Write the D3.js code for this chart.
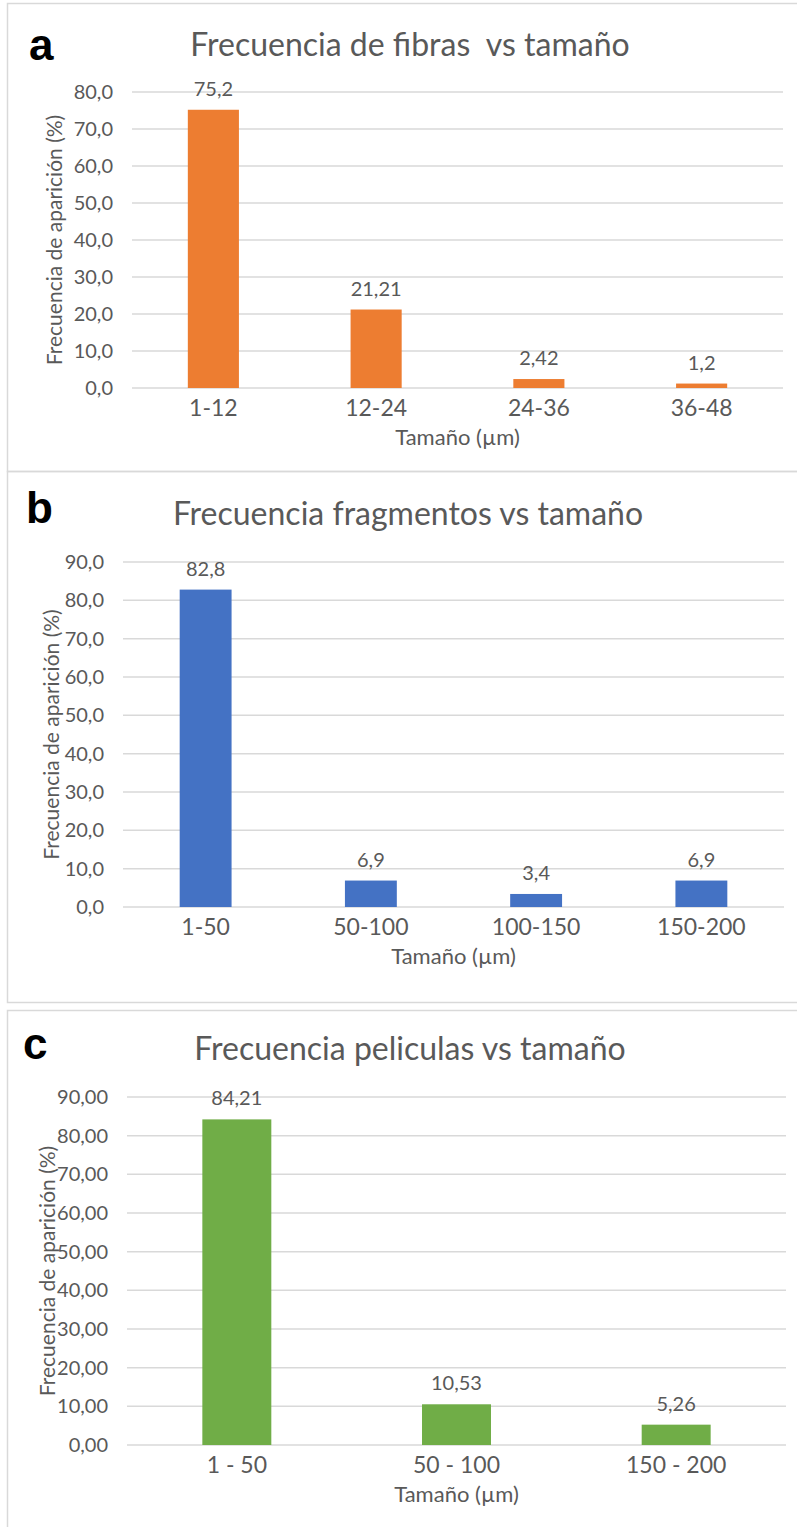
<!DOCTYPE html>
<html lang="es">
<head>
<meta charset="UTF-8">
<title>Frecuencia vs tamaño</title>
<script src="https://d3js.org/d3.v7.min.js"></script>
<style>
  body { margin: 0; background: #fff; }
  text { font-family: Lato, "Open Sans", sans-serif; fill: #595959; white-space: pre; }
</style>
</head>
<body>
<svg id="chart" width="797" height="1527"></svg>
<script>
// data
const catsA = ["1-12", "12-24", "24-36", "36-48"];
const valsA = [75.2, 21.21, 2.42, 1.2];
const ticksA = [0, 10, 20, 30, 40, 50, 60, 70, 80];

const catsB = ["1-50", "50-100", "100-150", "150-200"];
const valsB = [82.8, 6.9, 3.4, 6.9];
const ticksB = [0, 10, 20, 30, 40, 50, 60, 70, 80, 90];

const catsC = ["1 - 50", "50 - 100", "150 - 200"];
const valsC = [84.21, 10.53, 5.26];
const ticksC = [0, 10, 20, 30, 40, 50, 60, 70, 80, 90];

const svg = d3.select('#chart');
const comma = s => s.replace('.', ',');

function drawPanel(p) {
  const g = svg.append('g');

  // frame
  g.append('rect')
    .attr('x', 7.5).attr('y', p.top + 0.5)
    .attr('width', 820).attr('height', p.bottom - p.top)
    .attr('fill', 'none').attr('stroke', '#d9d9d9').attr('stroke-width', 1.5);

  g.append('text')
    .attr('x', p.letterX).attr('y', p.letterY)
    .style('font-family', '"Liberation Sans", Arial, sans-serif')
    .style('font-weight', 'bold').style('font-size', '44px').style('fill', '#000')
    .text(p.letter);

  g.append('text')
    .attr('x', p.titleX).attr('y', p.titleY)
    .attr('xml:space', 'preserve')
    .attr('text-anchor', 'middle').style('font-size', '32px')
    .text(p.title);

  const x = d3.scaleBand().domain(p.cats).range([p.x0, p.x1]).paddingInner(0.686).paddingOuter(0.343);
  const y = d3.scaleLinear().domain([0, d3.max(p.ticks)]).range([p.y0, p.y1]);

  // gridlines
  g.selectAll('line.grid').data(p.ticks).join('line')
    .attr('class', 'grid')
    .attr('x1', p.x0).attr('x2', p.x1)
    .attr('y1', d => y(d)).attr('y2', d => y(d))
    .attr('stroke', '#d9d9d9').attr('stroke-width', 1.5);

  // y tick labels
  g.selectAll('text.ytick').data(p.ticks).join('text')
    .attr('class', 'ytick')
    .attr('x', p.x0 - 19).attr('y', d => y(d) + 7)
    .attr('text-anchor', 'end').style('font-size', '20px')
    .text(d => comma(d3.format(p.fmt)(d)));

  // bars
  g.selectAll('rect.bar').data(p.vals).join('rect')
    .attr('class', 'bar')
    .attr('x', (d, i) => x(p.cats[i]))
    .attr('width', x.bandwidth())
    .attr('y', d => y(d))
    .attr('height', d => p.y0 - y(d))
    .attr('fill', p.color);

  // value labels
  g.selectAll('text.val').data(p.vals).join('text')
    .attr('class', 'val')
    .attr('x', (d, i) => x(p.cats[i]) + x.bandwidth() / 2)
    .attr('y', d => y(d) - 14)
    .attr('text-anchor', 'middle').style('font-size', '20px')
    .text(d => comma(String(d)));

  // category labels
  g.selectAll('text.xtick').data(p.cats).join('text')
    .attr('class', 'xtick')
    .attr('x', d => x(d) + x.bandwidth() / 2)
    .attr('y', p.y0 + 28)
    .attr('text-anchor', 'middle').style('font-size', '23px')
    .text(d => d);

  g.append('text')
    .attr('x', (p.x0 + p.x1) / 2).attr('y', p.y0 + 57)
    .attr('text-anchor', 'middle').style('font-size', '22px')
    .text('Tamaño (µm)');

  g.append('text')
    .attr('transform', `translate(${p.yTitleX},${(p.y0 + p.y1) / 2}) rotate(-90)`)
    .attr('text-anchor', 'middle').attr('dominant-baseline', 'central')
    .style('font-size', '21px')
    .text('Frecuencia de aparición (%)');
}

drawPanel({
  top: 3, bottom: 471, letter: 'a', letterX: 29, letterY: 60,
  title: 'Frecuencia de fibras  vs tamaño', titleX: 410, titleY: 56,
  cats: catsA, vals: valsA, ticks: ticksA, fmt: '.1f', color: '#ed7d31',
  x0: 132, x1: 783, y0: 388, y1: 92, yTitleX: 53
});

drawPanel({
  top: 471, bottom: 1002, letter: 'b', letterX: 26, letterY: 523,
  title: 'Frecuencia fragmentos vs tamaño', titleX: 408, titleY: 525,
  cats: catsB, vals: valsB, ticks: ticksB, fmt: '.1f', color: '#4472c4',
  x0: 123, x1: 784, y0: 907, y1: 562, yTitleX: 50
});

drawPanel({
  top: 1010, bottom: 1540, letter: 'c', letterX: 23, letterY: 1059,
  title: 'Frecuencia peliculas vs tamaño', titleX: 410, titleY: 1060,
  cats: catsC, vals: valsC, ticks: ticksC, fmt: '.2f', color: '#70ad47',
  x0: 127, x1: 786, y0: 1445, y1: 1097, yTitleX: 46
});
</script>
</body>
</html>
